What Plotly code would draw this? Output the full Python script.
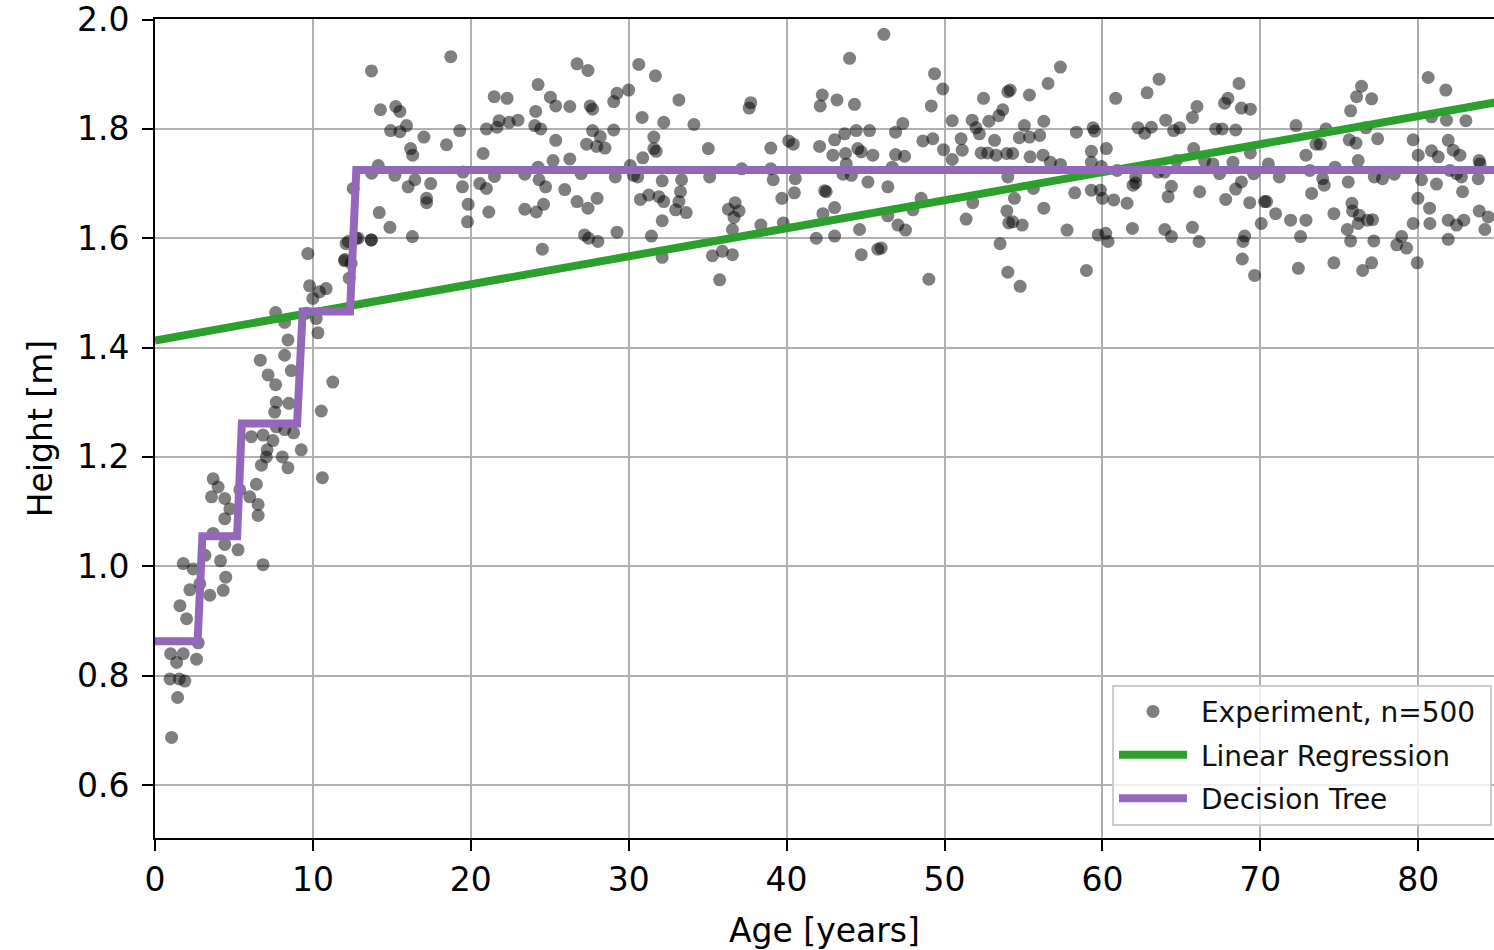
import plotly.graph_objects as go

# ---- scatter data, grouped by age region ----
age = [
    # 0-14 years
    1.05, 1.43, 0.95, 1.54, 1.89, 0.99, 1.37, 1.79, 2.63, 2.74, 2.00, 1.58, 2.21, 1.79, 2.42, 2.84, 3.47, 3.16, 3.68, 4.42,
    4.15, 4.48, 4.32, 5.26, 6.84, 3.58, 3.68, 4.00, 4.42, 4.74, 4.42, 5.37, 6.00, 6.42, 6.53, 6.53, 6.10, 6.84, 7.47, 7.10,
    7.05, 6.74, 8.06, 8.42, 8.78, 9.26, 10.60, 7.68, 8.21, 7.58, 7.68, 8.48, 7.64, 7.16, 6.67, 8.21, 8.63, 8.42, 10.53, 11.26,
    7.64, 8.21, 9.58, 10.32, 10.21, 10.00, 10.42, 10.84, 9.79, 9.68, 12.00, 12.10, 12.42, 12.30, 12.74, 13.70,
    # 12-27 years
    13.71, 18.73, 26.73, 14.28, 15.25, 15.51, 14.92, 15.51, 15.93, 17.03, 18.46, 19.30, 16.19, 16.32, 14.14, 13.72, 15.19, 16.46, 16.03, 17.46,
    17.20, 17.20, 12.55, 14.20, 14.88, 16.30, 13.70, 12.24, 12.87, 12.03, 19.51, 19.47, 19.83, 19.79, 20.57, 20.99, 21.50, 21.14, 20.78, 20.99,
    21.66, 21.79, 22.43, 22.99, 21.48, 22.30, 24.26, 24.11, 24.05, 24.43, 25.04, 25.38, 26.27, 25.38, 25.21, 26.27, 24.26, 23.42, 24.32, 24.74,
    25.95, 26.73, 23.42, 24.15, 24.61, 24.53,
    # 27-41 years
    27.42, 30.64, 31.69, 30.00, 29.26, 29.05, 27.56, 27.71, 33.18, 37.73, 37.63, 30.85, 32.22, 34.13, 29.05, 27.71, 28.20, 27.33, 27.97, 28.50,
    31.59, 31.59, 31.74, 30.89, 35.04, 39.00, 40.13, 40.42, 30.10, 26.99, 29.15, 30.30, 30.57, 32.12, 33.35, 35.13, 37.16, 39.00, 39.15, 40.55,
    28.00, 27.42, 30.74, 31.27, 31.91, 32.22, 33.28, 33.18, 32.97, 33.64, 32.12, 36.74, 36.31, 36.99, 36.67, 36.57, 38.37, 39.70, 40.49, 39.79,
    27.20, 27.46, 28.05, 29.26, 31.44, 32.12, 35.30, 35.93, 36.57, 35.76,
    # 41-56 years
    46.16, 43.99, 49.37, 49.89, 42.26, 42.13, 43.19, 44.30, 49.16, 52.47, 54.01, 54.16, 55.38, 53.69, 53.44, 52.81, 51.75, 52.00, 52.21, 50.49,
    47.36, 46.90, 45.25, 44.41, 43.67, 43.04, 42.09, 42.93, 43.73, 44.51, 44.73, 45.46, 46.90, 47.47, 48.63, 49.26, 49.94, 50.49, 51.05, 51.12,
    53.17, 52.32, 52.74, 53.27, 53.94, 54.32, 54.74, 55.38, 55.42, 55.06, 43.57, 44.10, 45.15, 46.41, 46.69, 43.78, 42.41, 42.51, 43.04, 42.30,
    48.52, 48.00, 46.41, 47.05, 47.53, 44.62, 43.04, 41.88, 44.73, 45.78, 45.99, 49.01, 51.37, 51.79, 53.95, 54.07, 54.32, 54.92, 54.43, 54.01,
    55.63, 53.52, 54.01, 54.79,
    # 56-70 years
    57.34, 56.56, 60.84, 62.83, 63.59, 64.01, 65.70, 65.99, 67.74, 67.95, 68.65, 68.80, 69.37, 56.29, 56.03, 58.35, 59.41, 59.51, 60.25, 59.30,
    62.26, 62.68, 63.10, 64.51, 64.89, 67.17, 67.59, 68.44, 65.78, 69.37, 56.24, 56.71, 57.34, 59.30, 59.94, 60.93, 62.11, 63.52, 63.94, 64.68,
    66.47, 67.00, 67.42, 68.27, 69.58, 56.29, 58.25, 59.30, 59.87, 60.00, 60.72, 61.56, 61.94, 62.11, 64.37, 64.16, 66.16, 67.81, 68.44, 68.80,
    69.33, 70.27, 70.06, 57.76, 59.73, 60.21, 60.36, 61.90, 63.95, 64.37, 65.70, 66.12, 68.90, 69.01, 68.86, 58.99, 69.64,
    # 70-85 years
    80.63, 81.75, 76.41, 76.10, 77.05, 75.72, 72.26, 74.16, 76.69, 80.84, 81.79, 83.02, 73.53, 73.80, 75.63, 76.06, 77.43, 79.68, 72.89, 80.00,
    80.84, 81.27, 81.90, 82.22, 82.64, 83.86, 70.51, 76.20, 74.73, 73.14, 71.20, 73.95, 74.05, 75.57, 77.22, 77.74, 78.48, 80.21, 81.16, 82.00,
    82.43, 82.74, 83.80, 83.92, 73.25, 70.40, 82.81, 79.98, 80.72, 75.80, 75.84, 76.27, 76.79, 77.11, 74.66, 70.97, 71.92, 72.89, 75.51, 76.20,
    79.68, 80.74, 81.90, 82.43, 82.89, 83.86, 84.43, 84.22, 72.55, 75.72, 77.19, 78.95, 78.64, 79.26, 81.90, 72.41, 74.66, 76.48, 77.05, 79.94,
]

height = [
    # 0-14 years
    0.687, 0.760, 0.794, 0.794, 0.790, 0.840, 0.824, 0.840, 0.830, 0.860, 0.904, 0.928, 0.957, 1.005, 0.995, 0.968, 0.947, 1.020, 1.060, 1.040,
    1.010, 0.980, 0.956, 1.030, 1.003, 1.127, 1.160, 1.145, 1.124, 1.105, 1.087, 1.140, 1.127, 1.150, 1.113, 1.093, 1.237, 1.240, 1.230, 1.213,
    1.200, 1.185, 1.200, 1.180, 1.244, 1.213, 1.162, 1.255, 1.250, 1.282, 1.300, 1.298, 1.332, 1.350, 1.377, 1.386, 1.358, 1.414, 1.284, 1.337,
    1.464, 1.446, 1.463, 1.427, 1.453, 1.490, 1.502, 1.508, 1.513, 1.572, 1.559, 1.590, 1.554, 1.527, 1.600, 1.597,
    # 12-27 years
    1.906, 1.932, 1.919, 1.835, 1.841, 1.832, 1.797, 1.795, 1.806, 1.785, 1.771, 1.797, 1.764, 1.752, 1.733, 1.719, 1.715, 1.707, 1.694, 1.700,
    1.673, 1.665, 1.691, 1.647, 1.620, 1.603, 1.597, 1.594, 1.600, 1.561, 1.721, 1.694, 1.662, 1.630, 1.700, 1.691, 1.713, 1.648, 1.755, 1.800,
    1.803, 1.815, 1.812, 1.816, 1.859, 1.856, 1.881, 1.832, 1.806, 1.800, 1.858, 1.842, 1.841, 1.779, 1.742, 1.745, 1.730, 1.717, 1.707, 1.694,
    1.689, 1.667, 1.653, 1.648, 1.662, 1.580,
    # 27-41 years
    1.907, 1.918, 1.897, 1.871, 1.865, 1.850, 1.842, 1.836, 1.853, 1.848, 1.838, 1.821, 1.812, 1.808, 1.798, 1.797, 1.786, 1.772, 1.768, 1.765,
    1.785, 1.764, 1.759, 1.747, 1.764, 1.765, 1.778, 1.772, 1.733, 1.718, 1.712, 1.715, 1.712, 1.705, 1.707, 1.712, 1.727, 1.727, 1.707, 1.709,
    1.673, 1.655, 1.671, 1.679, 1.676, 1.667, 1.685, 1.667, 1.652, 1.647, 1.632, 1.665, 1.653, 1.650, 1.638, 1.616, 1.624, 1.673, 1.683, 1.628,
    1.606, 1.600, 1.594, 1.611, 1.604, 1.565, 1.568, 1.576, 1.570, 1.524,
    # 41-56 years
    1.973, 1.929, 1.901, 1.873, 1.862, 1.842, 1.853, 1.845, 1.842, 1.856, 1.868, 1.871, 1.862, 1.835, 1.824, 1.814, 1.816, 1.802, 1.791, 1.815,
    1.810, 1.794, 1.797, 1.797, 1.791, 1.780, 1.768, 1.752, 1.755, 1.764, 1.758, 1.752, 1.753, 1.750, 1.778, 1.782, 1.762, 1.744, 1.782, 1.761,
    1.779, 1.756, 1.756, 1.752, 1.755, 1.755, 1.784, 1.785, 1.749, 1.806, 1.717, 1.715, 1.703, 1.694, 1.730, 1.736, 1.687, 1.685, 1.656, 1.645,
    1.673, 1.652, 1.641, 1.624, 1.615, 1.616, 1.604, 1.600, 1.570, 1.580, 1.582, 1.525, 1.635, 1.665, 1.650, 1.628, 1.630, 1.624, 1.673, 1.712,
    1.691, 1.590, 1.538, 1.512,
    # 56-70 years
    1.913, 1.883, 1.856, 1.866, 1.891, 1.816, 1.821, 1.841, 1.847, 1.856, 1.883, 1.838, 1.836, 1.814, 1.788, 1.794, 1.802, 1.796, 1.764, 1.759,
    1.802, 1.792, 1.803, 1.797, 1.802, 1.800, 1.800, 1.798, 1.764, 1.756, 1.752, 1.739, 1.735, 1.739, 1.731, 1.724, 1.712, 1.721, 1.721, 1.742,
    1.742, 1.736, 1.718, 1.739, 1.718, 1.655, 1.683, 1.688, 1.688, 1.673, 1.670, 1.664, 1.697, 1.701, 1.695, 1.676, 1.685, 1.671, 1.690, 1.703,
    1.665, 1.667, 1.627, 1.615, 1.606, 1.609, 1.594, 1.618, 1.616, 1.603, 1.620, 1.594, 1.594, 1.604, 1.562, 1.541, 1.532,
    # 70-85 years
    1.894, 1.871, 1.878, 1.859, 1.855, 1.833, 1.806, 1.800, 1.802, 1.822, 1.816, 1.815, 1.772, 1.772, 1.780, 1.774, 1.782, 1.780, 1.752, 1.752,
    1.760, 1.749, 1.779, 1.761, 1.752, 1.742, 1.736, 1.742, 1.730, 1.724, 1.712, 1.709, 1.697, 1.703, 1.712, 1.709, 1.717, 1.707, 1.699, 1.724,
    1.718, 1.712, 1.709, 1.736, 1.682, 1.667, 1.685, 1.673, 1.655, 1.664, 1.650, 1.642, 1.633, 1.634, 1.645, 1.645, 1.633, 1.633, 1.616, 1.627,
    1.627, 1.627, 1.633, 1.624, 1.633, 1.650, 1.639, 1.616, 1.603, 1.595, 1.595, 1.603, 1.588, 1.582, 1.598, 1.545, 1.555, 1.541, 1.555, 1.555,
]

# ---- model lines ----
lin_age = [0, 85]
lin_height = [1.413, 1.849]

tree_age = [0, 2.7, 3.0, 5.2, 5.5, 9.0, 9.35, 12.35, 12.75, 85]
tree_height = [0.863, 0.863, 1.055, 1.055, 1.261, 1.261, 1.466, 1.466, 1.725, 1.725]

x_ticks = [0, 10, 20, 30, 40, 50, 60, 70, 80]
y_ticks = [0.6, 0.8, 1.0, 1.2, 1.4, 1.6, 1.8, 2.0]

FONT = "DejaVu Sans"
NB = "\u00a0"

fig = go.Figure()
fig.add_trace(go.Scatter(
    x=age, y=height, mode="markers", name=NB + "Experiment, n=500" + NB, legendgroup="a",
    marker=dict(color="rgba(0,0,0,0.5)", size=13, line=dict(width=0)),
))
fig.add_trace(go.Scatter(
    x=lin_age, y=lin_height, mode="lines", name=NB + "Linear Regression", legendgroup="b",
    line=dict(color="#2ca02c", width=8),
))
fig.add_trace(go.Scatter(
    x=tree_age, y=tree_height, mode="lines", name=NB + "Decision Tree", legendgroup="c",
    line=dict(color="#9467bd", width=8),
))

fig.update_layout(
    width=1494, height=950,
    margin=dict(l=155, r=0, t=19, b=112),
    paper_bgcolor="white", plot_bgcolor="white",
    font=dict(family=FONT, size=33, color="black"),
    showlegend=True,
    legend=dict(
        x=0.9985, y=0.015, xanchor="right", yanchor="bottom",
        bgcolor="rgba(255,255,255,0.8)", bordercolor="#cccccc", borderwidth=2,
        font=dict(family=FONT, size=28, color="#111111"),
        itemwidth=68, tracegroupgap=4,
    ),
    xaxis=dict(
        range=[0, 84.8], tickvals=x_ticks, ticktext=[str(v) for v in x_ticks],
        showgrid=True, gridcolor="#b0b0b0", gridwidth=2,
        showline=True, linecolor="black", linewidth=2, mirror=True,
        ticks="outside", ticklen=11, tickwidth=2, tickcolor="black",
        zeroline=False,
        title=dict(text="Age [years]", font=dict(size=33), standoff=22),
    ),
    yaxis=dict(
        range=[0.503, 2.001], tickvals=y_ticks, ticktext=[f"{v:.1f}" for v in y_ticks],
        showgrid=True, gridcolor="#b0b0b0", gridwidth=2,
        showline=True, linecolor="black", linewidth=2, mirror=False,
        ticks="outside", ticklen=11, tickwidth=2, tickcolor="black",
        ticklabelstandoff=6,
        zeroline=False,
        title=dict(text="Height [m]", font=dict(size=33), standoff=14),
    ),
)

fig.write_html("out.html")
